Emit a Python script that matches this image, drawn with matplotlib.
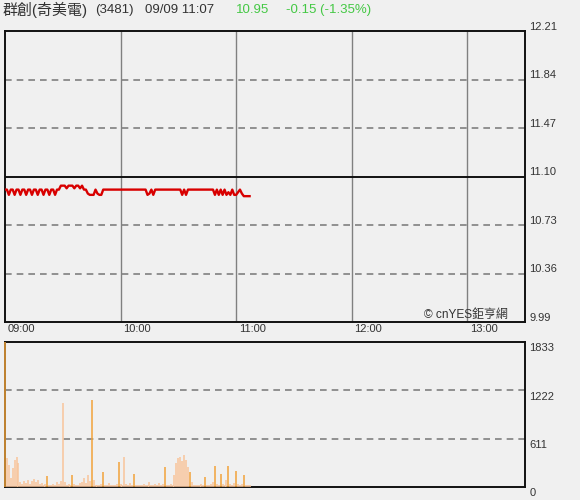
import numpy as np
import matplotlib
matplotlib.use('Agg')
import matplotlib.pyplot as plt

plt.rcParams['font.family'] = ['Liberation Sans', 'Noto Sans CJK TC', 'DejaVu Sans']

# minutes since 09:00, one point per minute up to 11:07
price = [11.00, 11.00, 10.96, 11.00, 11.00, 10.96, 11.00, 11.00, 10.96, 11.00,
         11.00, 10.96, 11.00, 11.00, 10.96, 11.00, 11.00, 10.96, 11.00, 11.00,
         10.96, 11.00, 11.00, 10.96, 11.00, 11.00, 10.96, 11.00, 11.00, 11.03,
         11.03, 11.03, 11.01, 11.03, 11.03, 11.03, 11.01, 11.03, 11.03, 11.01,
         11.03, 11.00, 11.00, 10.97, 10.96, 10.96, 10.96, 11.00, 10.97, 10.96,
         10.96, 11.00, 11.00, 11.00, 11.00, 11.00, 11.00, 11.00, 11.00, 11.00,
         11.00, 11.00, 11.00, 11.00, 11.00, 11.00, 11.00, 11.00, 11.00, 11.00,
         11.00, 11.00, 11.00, 11.00, 10.96, 10.97, 11.00, 10.96, 11.00, 11.00,
         11.00, 11.00, 11.00, 11.00, 11.00, 11.00, 11.00, 11.00, 11.00, 11.00,
         11.00, 11.00, 10.96, 11.00, 10.96, 11.00, 11.00, 11.00, 11.00, 11.00,
         11.00, 11.00, 11.00, 11.00, 11.00, 11.00, 11.00, 11.00, 11.00, 10.96,
         11.00, 10.96, 11.00, 10.96, 11.00, 10.96, 10.98, 10.96, 11.00, 10.96,
         10.96, 10.98, 11.00, 10.97, 10.95, 10.95, 10.95, 10.95]

volume = [1833, 366, 280, 120, 240, 340, 380, 300, 60, 40,
          80, 50, 90, 40, 70, 100, 60, 90, 40, 50,
          30, 40, 140, 30, 20, 40, 30, 60, 40, 70,
          1060, 60, 30, 40, 20, 150, 40, 30, 20, 50,
          60, 120, 50, 150, 80, 1100, 90, 30, 20, 30,
          40, 190, 30, 20, 50, 30, 20, 30, 40, 316,
          40, 30, 380, 40, 30, 50, 30, 160, 30, 20,
          30, 20, 40, 30, 20, 60, 30, 20, 40, 30,
          50, 30, 40, 250, 30, 20, 40, 30, 150, 300,
          370, 380, 330, 400, 340, 250, 190, 60, 30, 20,
          30, 20, 40, 30, 130, 20, 30, 40, 60, 265,
          40, 30, 160, 40, 30, 90, 260, 40, 30, 50,
          200, 40, 30, 40, 150, 30, 20, 30]
dark_bars = [0, 22, 35, 45, 51, 59, 67, 83, 96, 104, 109, 112, 116, 120, 124]

price_ticks = [9.99, 10.36, 10.73, 11.10, 11.47, 11.84, 12.21]
prev_close = 11.10
vol_ticks = [0, 611, 1222, 1833]
hour_ticks = [0, 60, 120, 180, 240]
hour_labels = ['09:00', '10:00', '11:00', '12:00', '13:00']

bg = '#f0f0f0'
txt = '#333333'
grid = '#808080'

fig = plt.figure(figsize=(5.8, 5.0), dpi=100, facecolor=bg)
ax = fig.add_axes([5 / 580, 178 / 500, 520 / 580, 291 / 500], facecolor=bg)
axv = fig.add_axes([5 / 580, 13 / 500, 520 / 580, 145 / 500], facecolor=bg)

minutes = np.arange(len(price))

# price panel
ax.set_xlim(0, 270)
ax.set_ylim(price_ticks[0], price_ticks[-1])
for h in hour_ticks[1:]:
    ax.axvline(h, color=grid, lw=1, zorder=1)
for t in price_ticks[1:-1]:
    if t == prev_close:
        ax.axhline(t, color='#111111', lw=1.4, zorder=1)
    else:
        ax.axhline(t, color=grid, lw=1.2, ls=(0, (4, 3)), zorder=1)
ax.plot(minutes, price, color='#d80000', lw=1.7, zorder=3)
ax.set_xticks([])
ax.set_yticks([])
for t in price_ticks:
    ax.annotate('%.2f' % t, xy=(1, t), xycoords=('axes fraction', 'data'),
                xytext=(3, 3), textcoords='offset points', va='center', ha='left',
                fontsize=8, color=txt, annotation_clip=False)
for h, lab in zip(hour_ticks, hour_labels):
    ax.annotate(lab, xy=(h, 0), xycoords=('data', 'axes fraction'),
                xytext=(2, -5), textcoords='offset points', va='center', ha='left',
                fontsize=8, color=txt, annotation_clip=False)
ax.text(0.967, 0.024, '© cnYES鉅亨網', transform=ax.transAxes, ha='right', va='center',
        fontsize=8.6, color=txt)

# volume panel
axv.set_xlim(0, 270)
axv.set_ylim(vol_ticks[0], vol_ticks[-1])
for t in vol_ticks[1:-1]:
    axv.axhline(t, color=grid, lw=1.2, ls=(0, (4, 3)), zorder=1)
colors = ['#f2a33a' if i in dark_bars else '#f8c49a' for i in range(len(volume))]
axv.vlines(minutes, 0, volume, colors=colors, lw=1.1, zorder=3, clip_on=False)
axv.set_xticks([])
axv.set_yticks([])
for t in vol_ticks:
    axv.annotate(str(t), xy=(1, t), xycoords=('axes fraction', 'data'),
                 xytext=(3, -4.5), textcoords='offset points', va='center', ha='left',
                 fontsize=8, color=txt, annotation_clip=False)

for a in (ax, axv):
    for s in a.spines.values():
        s.set_color('#111111')
        s.set_linewidth(1.4)
        s.set_zorder(2)

# header line
y0 = 1 - 10 / 500
fig.text(3 / 580, y0, '群創(奇美電)', fontsize=10.8, color=txt, va='center')
fig.text(95 / 580, y0, '(3481)', fontsize=9.5, color=txt, va='center')
fig.text(145 / 580, y0, '09/09 11:07', fontsize=9.5, color=txt, va='center')
fig.text(236 / 580, y0, '10.95', fontsize=9.5, color='#44c844', va='center')
fig.text(286 / 580, y0, '-0.15 (-1.35%)', fontsize=9.5, color='#44c844', va='center')

fig.savefig('out.png', dpi=100, facecolor=bg)
